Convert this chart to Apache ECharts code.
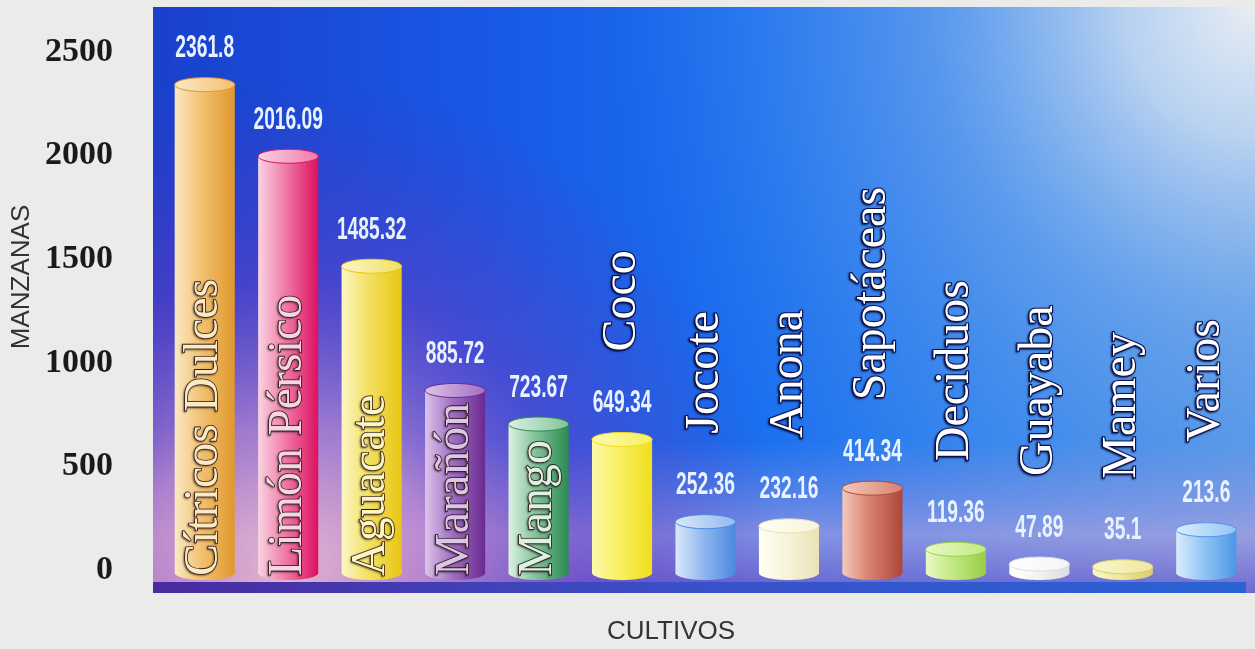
<!DOCTYPE html>
<html>
<head>
<meta charset="utf-8">
<title>Cultivos - Manzanas</title>
<script src="https://cdn.jsdelivr.net/npm/echarts@6/dist/echarts.min.js"></script>
<style>
  html, body { margin: 0; padding: 0; background: #ebebe9; }
  #chart { width: 1255px; height: 649px; }
</style>
</head>
<body>
<div id="chart"></div>
<script>
'use strict';

// datos del grafico
var cultivos = ['Cítricos Dulces', 'Limón Pérsico', 'Aguacate', 'Marañón', 'Mango', 'Coco',
    'Jocote', 'Anona', 'Sapotáceas', 'Deciduos', 'Guayaba', 'Mamey', 'Varios'];
var manzanas = [2361.8, 2016.09, 1485.32, 885.72, 723.67, 649.34,
    252.36, 232.16, 414.34, 119.36, 47.89, 35.1, 213.6];
var yTicks = [0, 500, 1000, 1500, 2000, 2500];

// colores de cada cilindro: claro, medio, oscuro
var colores = [
    ['#fbe9c4', '#f2c070', '#e0982c'],
    ['#f9d4e2', '#f07aa8', '#dc1060'],
    ['#fbf6c4', '#f4e062', '#e8c612'],
    ['#dcc4ea', '#a070c2', '#6a2a90'],
    ['#dcf2e2', '#82c29a', '#2a8a50'],
    ['#fcf9ac', '#f8f060', '#f0de1e'],
    ['#dae9fa', '#92b9f0', '#4a88e0'],
    ['#fffef2', '#f8f4dc', '#eae2b6'],
    ['#f2cabb', '#d88070', '#ae4636'],
    ['#eaf8c4', '#c2e882', '#96ce46'],
    ['#ffffff', '#f4f4f4', '#dcdce6'],
    ['#faf6c6', '#eee8a0', '#d6ce6c'],
    ['#daedfc', '#92c5f4', '#4a96e8']
];

var myChart = echarts.init(document.getElementById('chart'));

function cilindro(params, api) {
    var i = params.dataIndex;
    var v = api.value(1);
    var top = api.coord([api.value(0), v]);
    var base = api.coord([api.value(0), 0]);
    var w = api.size([1, 0])[0] * 0.72;
    var cx = top[0], ty = top[1] + 4, by = base[1] + 3;
    var rx = w / 2, ry = 7;
    var c = colores[i];

    var cuerpo = new echarts.graphic.LinearGradient(0, 0, 1, 0, [
        {offset: 0, color: c[0]}, {offset: 0.45, color: c[1]}, {offset: 1, color: c[2]}
    ]);
    var tapa = new echarts.graphic.LinearGradient(0, 0, 1, 0, [
        {offset: 0, color: c[0]}, {offset: 1, color: c[1]}
    ]);
    var labelY = top[1] - 32;
    var dentro = v > 700; // nombre dentro de la barra cuando cabe

    return {
        type: 'group',
        children: [
            {type: 'ellipse', shape: {cx: cx, cy: by, rx: rx, ry: ry}, style: {fill: cuerpo}},
            {type: 'rect', shape: {x: cx - rx, y: ty, width: w, height: by - ty}, style: {fill: cuerpo}},
            {type: 'ellipse', shape: {cx: cx, cy: ty, rx: rx, ry: ry},
                style: {fill: tapa, stroke: c[2], lineWidth: 1}},
            {type: 'text', x: cx, y: labelY, scaleX: 0.62,
                style: {text: String(v), fill: '#e8f3ff', font: 'bold 31px "Liberation Sans", sans-serif',
                    align: 'center', verticalAlign: 'middle'}},
            {type: 'text', x: cx, y: dentro ? by + 3 : labelY - 52, rotation: Math.PI / 2,
                style: {text: cultivos[i], font: '48px "Liberation Serif", serif',
                    align: 'left', verticalAlign: 'middle',
                    fill: dentro ? c[0] : '#ffffff',
                    stroke: dentro ? '#2a1a14' : '#0a1450',
                    lineWidth: dentro ? 1.6 : 2.2,
                    textShadowColor: dentro ? 'rgba(40,20,20,0.5)' : 'rgba(5,10,60,0.8)',
                    textShadowBlur: 2, textShadowOffsetX: -1, textShadowOffsetY: 1}}
        ]
    };
}

var fondo = {x: 153, y: 7, width: 1102, height: 586};

var option = {
    animation: false,
    grid: {left: 163, right: 7, top: 52, bottom: 79},
    graphic: [
        {type: 'rect', z: -10, shape: fondo, style: {
            fill: new echarts.graphic.LinearGradient(0, 0, 1, 0, [
                {offset: 0, color: '#1a40cc'}, {offset: 0.3, color: '#1858e4'},
                {offset: 0.55, color: '#1b70ef'}, {offset: 0.8, color: '#3486ec'},
                {offset: 1, color: '#4e94e6'}
            ])
        }},
        {type: 'rect', z: -9, shape: fondo, style: {
            fill: new echarts.graphic.RadialGradient(1, 0, 1.1, [
                {offset: 0, color: 'rgba(232,237,244,1)'}, {offset: 0.2, color: 'rgba(205,222,242,0.85)'},
                {offset: 0.5, color: 'rgba(140,182,238,0.45)'}, {offset: 1, color: 'rgba(80,140,235,0)'}
            ])
        }},
        {type: 'rect', z: -8, shape: fondo, style: {
            fill: new echarts.graphic.LinearGradient(0, 0, 0, 1, [
                {offset: 0, color: 'rgba(170,150,220,0)'}, {offset: 0.74, color: 'rgba(170,150,220,0)'},
                {offset: 0.9, color: 'rgba(195,165,220,0.6)'}, {offset: 1, color: 'rgba(120,90,200,0.75)'}
            ])
        }},
        {type: 'rect', z: -7, shape: fondo, style: {
            fill: new echarts.graphic.RadialGradient(0.12, 0.97, 0.85, [
                {offset: 0, color: 'rgba(240,190,205,0.9)'}, {offset: 0.3, color: 'rgba(205,140,205,0.75)'},
                {offset: 0.6, color: 'rgba(120,60,190,0.45)'}, {offset: 1, color: 'rgba(90,40,180,0)'}
            ])
        }},
        {type: 'rect', z: -6, shape: {x: 153, y: 582, width: 1093, height: 11}, style: {
            fill: new echarts.graphic.LinearGradient(0, 0, 1, 0, [
                {offset: 0, color: '#4a2aa0'}, {offset: 0.5, color: '#3a50c8'}, {offset: 1, color: '#2a62d4'}
            ])
        }},
        {type: 'text', x: 22, y: 277, rotation: Math.PI / 2, style: {
            text: 'MANZANAS', font: '26px "Liberation Sans", sans-serif', fill: '#333333',
            align: 'center', verticalAlign: 'middle'
        }},
        {type: 'text', x: 671, y: 632, style: {
            text: 'CULTIVOS', font: '26px "Liberation Sans", sans-serif', fill: '#333333',
            align: 'center', verticalAlign: 'middle'
        }}
    ],
    xAxis: {
        type: 'category',
        data: cultivos,
        axisLine: {show: false},
        axisTick: {show: false},
        axisLabel: {show: false}
    },
    yAxis: {
        type: 'value',
        min: yTicks[0],
        max: yTicks[yTicks.length - 1],
        interval: yTicks[1] - yTicks[0],
        splitLine: {show: false},
        axisLine: {show: false},
        axisTick: {show: false},
        axisLabel: {
            margin: 50,
            color: '#1a1a1a',
            fontFamily: 'Liberation Serif',
            fontWeight: 'bold',
            fontSize: 34,
            formatter: function(v) { return String(v); }
        }
    },
    series: [{
        type: 'custom',
        renderItem: cilindro,
        encode: {x: 0, y: 1},
        data: manzanas.map(function(v, i) { return [i, v]; })
    }]
};

myChart.setOption(option);
</script>
</body>
</html>
